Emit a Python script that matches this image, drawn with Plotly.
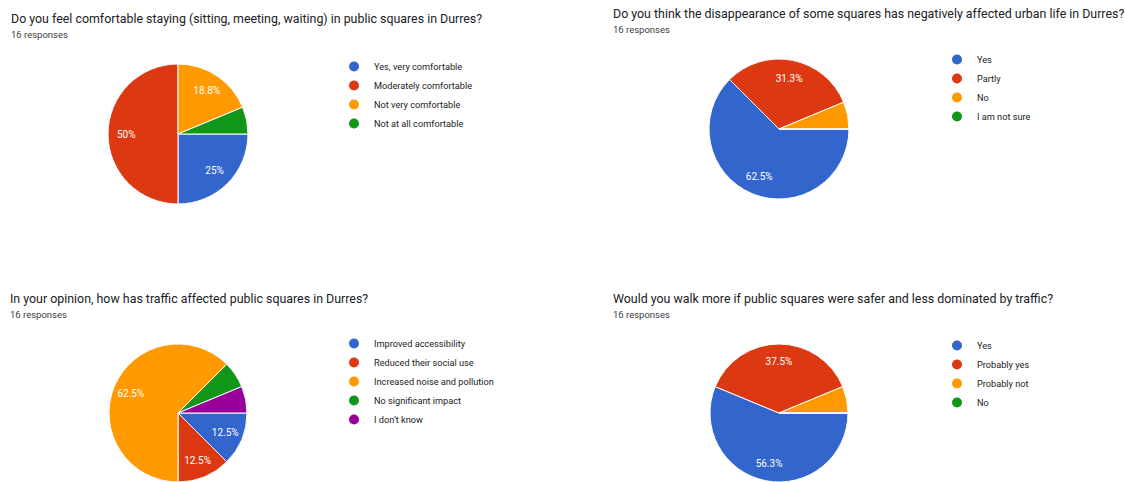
import math
import plotly.graph_objects as go

W, H = 1125, 482

q1_title = "Do you feel comfortable staying (sitting, meeting, waiting) in public squares in Durres?"
q1_labels = ["Yes, very comfortable", "Moderately comfortable", "Not very comfortable", "Not at all comfortable"]
q1_values = [4, 8, 3, 1]

q2_title = "Do you think the disappearance of some squares has negatively affected urban life in Durres?"
q2_labels = ["Yes", "Partly", "No", "I am not sure"]
q2_values = [10, 5, 1, 0]

q3_title = "In your opinion, how has traffic affected public squares in Durres?"
q3_labels = ["Improved accessibility", "Reduced their social use", "Increased noise and pollution",
             "No significant impact", "I don’t know"]
q3_values = [2, 2, 10, 1, 1]

q4_title = "Would you walk more if public squares were safer and less dominated by traffic?"
q4_labels = ["Yes", "Probably yes", "Probably not", "No"]
q4_values = [9, 6, 1, 0]

responses = "16 responses"
colors = ["#3366cc", "#dc3912", "#ff9900", "#109618", "#990099"]


def px_x(v):
    return v / W


def px_y(v):
    return 1 - v / H


def pct_text(values):
    tot = sum(values)
    out = []
    for v in values:
        p = v / tot * 100
        if p < 10:
            out.append("")
        else:
            p = math.floor(p * 10 + 0.5) / 10
            s = f"{p:.1f}"
            if s.endswith(".0"):
                s = s[:-2]
            out.append(s + "%")
    return out


panels = [
    # title, labels, values, pie box (left, top, right, bottom), title pos, legend pos
    (q1_title, q1_labels, q1_values, (108, 64, 248, 204), (9, 19), (334, 52), "legend"),
    (q2_title, q2_labels, q2_values, (709, 59, 849, 199), (611, 13), (937, 45), "legend2"),
    (q3_title, q3_labels, q3_values, (108, 344, 248, 482), (8, 298), (334, 329), "legend3"),
    (q4_title, q4_labels, q4_values, (709, 344, 849, 482), (611, 298), (937, 331), "legend4"),
]

fig = go.Figure()
annotations = []
layout_legends = {}

for title, labels, values, box, tpos, lpos, lg in panels:
    l, t, r, b = box
    dom = dict(x=[px_x(l), px_x(r)], y=[max(0, px_y(b)), px_y(t)])
    # filled pie
    fig.add_trace(go.Pie(
        labels=labels, values=values, sort=False, direction="clockwise", rotation=90,
        marker=dict(colors=colors[:len(labels)], line=dict(color="white", width=1)),
        textinfo="none", domain=dom, showlegend=False, hoverinfo="label+percent",
    ))
    # transparent ring carrying the percentage labels further out
    fig.add_trace(go.Pie(
        labels=labels, values=values, sort=False, direction="clockwise", rotation=90,
        hole=0.48,
        marker=dict(colors=["rgba(0,0,0,0)"] * len(labels), line=dict(width=0)),
        text=pct_text(values), textinfo="text", textposition="inside",
        insidetextorientation="horizontal",
        textfont=dict(family="Roboto", size=10, color="white"),
        domain=dom, showlegend=False, hoverinfo="skip",
    ))
    for i, lab in enumerate(labels):
        fig.add_trace(go.Scatter(
            x=[None], y=[None], mode="markers", name=lab,
            marker=dict(color=colors[i], size=10, symbol="circle"),
            legend=lg, showlegend=True, xaxis="x", yaxis="y",
        ))
    annotations.append(dict(
        text=title, x=px_x(tpos[0]), y=px_y(tpos[1]), xref="paper", yref="paper",
        xanchor="left", yanchor="middle", showarrow=False,
        font=dict(family="Roboto", size=12.4, color="#202124"),
    ))
    annotations.append(dict(
        text=responses, x=px_x(tpos[0]), y=px_y(tpos[1] + 16), xref="paper", yref="paper",
        xanchor="left", yanchor="middle", showarrow=False,
        font=dict(family="Roboto", size=9.5, color="#3c4043"),
    ))
    layout_legends[lg] = dict(
        x=px_x(lpos[0]), y=px_y(lpos[1]), xanchor="left", yanchor="top",
        font=dict(family="Roboto", size=9.2, color="#222222"),
        bgcolor="rgba(0,0,0,0)", itemwidth=30,
    )

fig.update_layout(
    width=W, height=H,
    margin=dict(l=0, r=0, t=0, b=0),
    paper_bgcolor="white", plot_bgcolor="white",
    xaxis=dict(visible=False), yaxis=dict(visible=False),
    annotations=annotations,
    **layout_legends,
)

fig.write_html("out.html", config={"displayModeBar": False},
               post_script="document.body.style.margin='0';")
